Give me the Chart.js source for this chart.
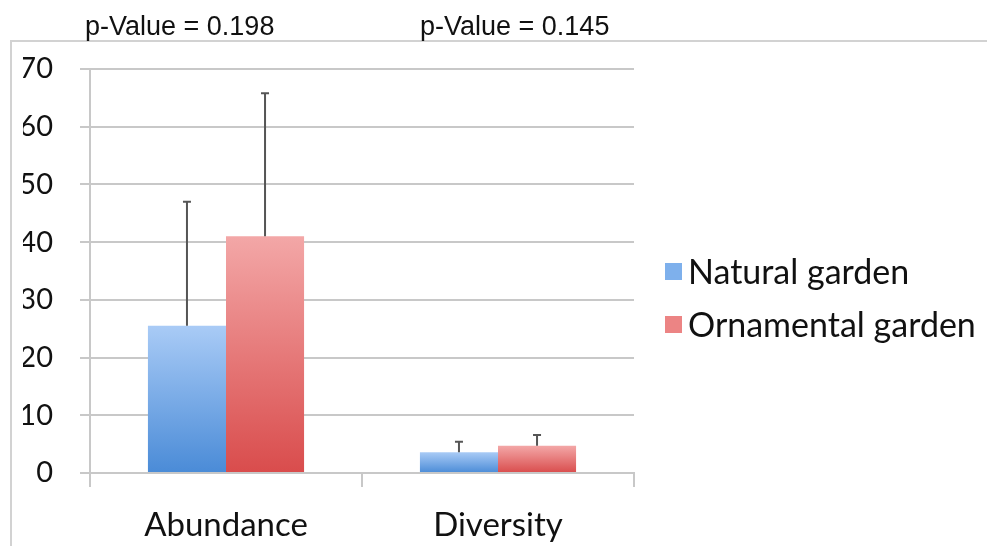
<!DOCTYPE html>
<html>
<head>
<meta charset="utf-8">
<script src="https://cdn.jsdelivr.net/npm/chart.js@4"></script>
<style>
  html, body { margin: 0; padding: 0; background: #fff; overflow: hidden; }
  #wrap { position: relative; width: 987px; height: 546px; }
  #frame { position: absolute; left: 10px; top: 40px; right: 0; bottom: 0;
           border-top: 2px solid #d2d2d2; border-left: 2px solid #d2d2d2; }
  canvas { position: absolute; left: 0; top: 0; }
</style>
</head>
<body>
<div id="wrap">
  <div id="frame"></div>
  <canvas id="gardenChart" width="987" height="546"></canvas>
</div>
<script>
const categories = ["Abundance", "Diversity"];
const naturalValues = [25.5, 3.6];
const naturalErrors = [21.5, 1.8];
const ornamentalValues = [41.0, 4.7];
const ornamentalErrors = [24.8, 1.9];
const yMin = 0, yMax = 70, yStep = 10;
const pValueLabels = ["p-Value = 0.198", "p-Value = 0.145"];
const pValueX = [85, 420];

const textColor = "#111";
const gridColor = "#c8c8c8";

// vertical gradient for each bar, light at top, darker at base
function barGradient(top, bottom) {
  return function (ctx) {
    const chart = ctx.chart;
    if (!chart.chartArea || ctx.raw === undefined) return bottom;
    const y = chart.scales.y;
    const g = chart.ctx.createLinearGradient(0, y.getPixelForValue(ctx.raw), 0, y.getPixelForValue(0));
    g.addColorStop(0, top);
    g.addColorStop(1, bottom);
    return g;
  };
}

const errorBars = {
  id: "errorBars",
  afterDatasetsDraw(chart) {
    const c = chart.ctx;
    const y = chart.scales.y;
    chart.data.datasets.forEach((ds, i) => {
      chart.getDatasetMeta(i).data.forEach((bar, j) => {
        const top = y.getPixelForValue(ds.data[j] + ds.errors[j]);
        c.save();
        c.strokeStyle = "#555";
        c.lineWidth = 2;
        c.beginPath();
        c.moveTo(bar.x, bar.y);
        c.lineTo(bar.x, top);
        c.moveTo(bar.x - 4, top);
        c.lineTo(bar.x + 4, top);
        c.stroke();
        c.restore();
      });
    });
  },
};

// p-values above the plot and the legend on the right
const annotations = {
  id: "annotations",
  afterDraw(chart) {
    const c = chart.ctx;
    c.save();
    c.font = "27px 'Liberation Sans', Arial, sans-serif";
    c.fillStyle = textColor;
    c.textBaseline = "alphabetic";
    pValueLabels.forEach((t, i) => c.fillText(t, pValueX[i], 35));

    c.font = "34px Lato";
    c.textBaseline = "middle";
    chart.data.datasets.forEach((ds, i) => {
      const cy = 272 + i * 53;
      c.fillStyle = ds.legendColor;
      c.fillRect(665, cy - 9, 17, 17);
      c.fillStyle = textColor;
      c.fillText(ds.label, 688, cy + 1);
    });
    c.restore();
  },
};

async function draw() {
  await Promise.all([document.fonts.load("34px Lato"), document.fonts.load("27px 'Liberation Sans'")]);
  new Chart(document.getElementById("gardenChart"), {
    type: "bar",
    data: {
      labels: categories,
      datasets: [
        {
          label: "Natural garden",
          data: naturalValues,
          errors: naturalErrors,
          backgroundColor: barGradient("#a9cbf6", "#4a8bd7"),
          legendColor: "#7eb0ec",
        },
        {
          label: "Ornamental garden",
          data: ornamentalValues,
          errors: ornamentalErrors,
          backgroundColor: barGradient("#f3a7a7", "#d94c4c"),
          legendColor: "#ec8484",
        },
      ],
    },
    options: {
      responsive: false,
      animation: false,
      datasets: { bar: { categoryPercentage: 0.574, barPercentage: 1.0 } },
      layout: { padding: { left: 23, top: 69, right: 353, bottom: 0 } },
      plugins: {
        legend: { display: false },
        tooltip: { enabled: false },
      },
      scales: {
        x: {
          afterFit: (s) => { s.height = 73; },
          grid: { drawOnChartArea: false, color: gridColor, lineWidth: 2, tickLength: 14 },
          border: { color: gridColor, width: 2 },
          ticks: { font: { family: "Lato", size: 33 }, color: textColor, padding: 19 },
        },
        y: {
          min: yMin,
          max: yMax,
          afterFit: (s) => { s.width = 67; },
          grid: { color: gridColor, lineWidth: 2, tickLength: 10 },
          border: { color: gridColor, width: 2 },
          ticks: { stepSize: yStep, font: { family: "Lato", size: 29 }, color: textColor, padding: 27 },
        },
      },
    },
    plugins: [errorBars, annotations],
  });
}
draw();
</script>
</body>
</html>
